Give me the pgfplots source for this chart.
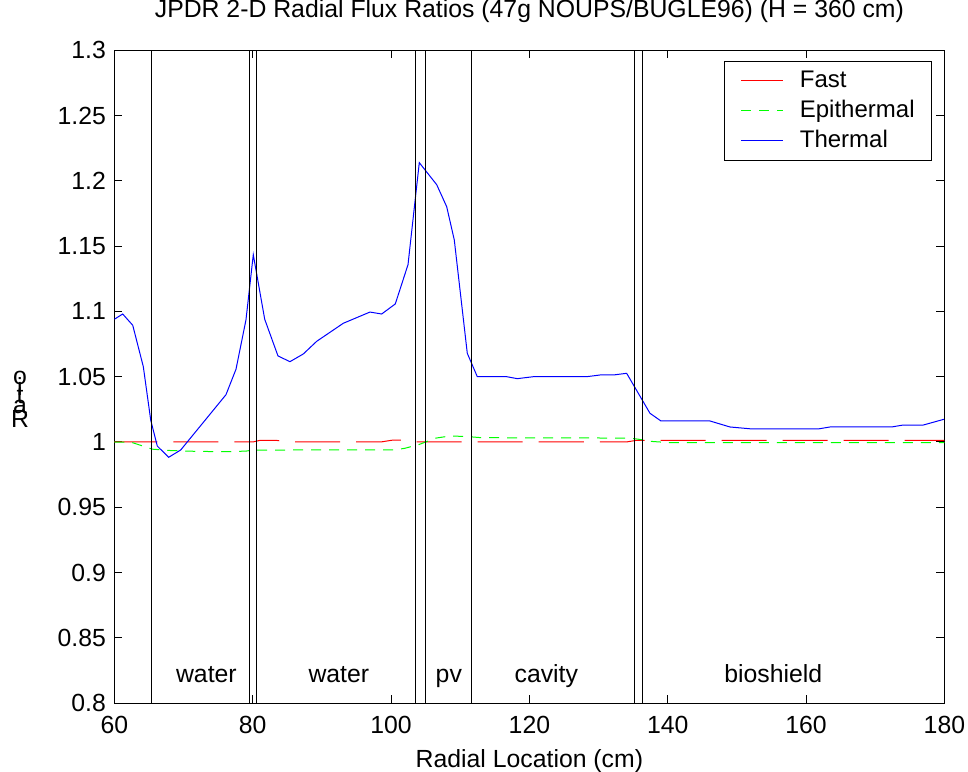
\documentclass[border=0pt]{standalone}
\usepackage{fontspec}
\setmainfont{Liberation Sans}
\usepackage{pgfplots}
\pgfplotsset{compat=1.18}

\begin{document}
\begin{tikzpicture}
\begin{axis}[%
scale only axis,
width=415pt, height=326.5pt,
xmin=60, xmax=180,
ymin=0.8, ymax=1.3,
xtick={60,80,100,120,140,160,180},
ytick={0.8,0.85,0.9,0.95,1,1.05,1.1,1.15,1.2,1.25,1.3},
tick align=inside,
major tick length=4pt,
xtick pos=both, ytick pos=both,
tick style={black, line width=0.5pt},
axis line style={line width=0.6pt},
font=\fontsize{12.4}{14}\selectfont,
ticklabel style={font=\fontsize{12.4}{14}\selectfont},
/pgf/number format/assume math mode=true,
xticklabel style={anchor=base, yshift=-15pt},
yticklabel style={anchor=east, xshift=-0.7pt},
title={JPDR 2-D Radial Flux Ratios (47g NOUPS/BUGLE96) (H = 360 cm)},
title style={at={(rel axis cs:0.5,1)}, anchor=base, yshift=10.5pt, inner sep=0pt},
xlabel={Radial Location (cm)},
xlabel style={at={(rel axis cs:0.5,0)}, anchor=base, yshift=-32pt, inner sep=0pt},
ylabel={\makebox[0pt]{R}\makebox[0pt]{\raisebox{7pt}{a}}\makebox[0pt]{\raisebox{12pt}{t}}\makebox[0pt]{\raisebox{16pt}{i}}\makebox[0pt]{\raisebox{21.5pt}{o}}},
ylabel style={rotate=-90, at={(rel axis cs:0,0)}, anchor=base, xshift=-47.2pt, yshift=137.6pt, inner sep=0pt},
clip mode=individual,
legend cell align=left,
legend style={draw=black, line width=0.5pt, fill=white,
  at={(rel axis cs:1,1)}, anchor=north east, xshift=-6.35pt, yshift=-5.4pt,
  inner xsep=8.3pt, inner ysep=4pt, row sep=3.5pt,
  font=\fontsize{12}{14}\selectfont,
  nodes={inner sep=0pt, text height=9pt, text depth=2.5pt}},
legend image code/.code={\draw[#1] (0pt,0pt) -- (20.8pt,0pt); \path (29.1pt,0pt);},
]
% Fast
\addplot [color=red, line width=0.5pt, dash pattern=on 22.5pt off 8pt, dash phase=1pt,
  legend image code/.code={\draw[red, line width=0.5pt] (0pt,0pt) -- (20.8pt,0pt); \path (29.1pt,0pt);}]
coordinates {(60,1.0)(80,1.0)(81,1.0012)(83.5,1.0012)(85,1.0)(98.5,1.0)(100.3,1.0015)(102.2,1.0015)(103.5,1.0)(134,1.0)(135.5,1.0013)(180,1.0013)};
\addlegendentry{Fast}
% Epithermal
\addplot [color=green, line width=0.5pt, dash pattern=on 5pt off 4pt]
coordinates {(60,1.0)(62.5,0.9997)(65.5,0.9945)(68,0.9935)(72,0.9928)(76,0.9926)(79,0.993)(80,0.9938)(87,0.9939)(100.5,0.9939)(102,0.9952)(104,0.998)(106.5,1.003)(108.5,1.0046)(111,1.0042)(113,1.0033)(134.5,1.003)(136.2,1.0018)(137.5,1.0005)(140,0.9996)(180,0.9995)};
\addlegendentry{Epithermal}
% Thermal
\addplot [color=blue, line width=0.5pt]
coordinates {(60,1.094)(61.2,1.098)(62.65,1.0894)(64.18,1.0577)(65.25,1.0168)(66.2,0.9969)(67.85,0.9883)(69.59,0.9939)(76.13,1.0362)(77.58,1.0557)(79.02,1.0934)(80.08,1.1434)(81.73,1.094)(83.65,1.0659)(85.38,1.0615)(87.31,1.0674)(89.25,1.0771)(93.09,1.0909)(96.95,1.0995)(98.64,1.098)(100.61,1.1057)(102.45,1.1358)(104.08,1.2139)(106.6,1.197)(108.04,1.1802)(109.14,1.1547)(111.02,1.0679)(112.47,1.05)(116.72,1.05)(118.25,1.0485)(120.56,1.05)(128.28,1.05)(130.2,1.0513)(132.13,1.0513)(134.06,1.0526)(137.43,1.022)(139.02,1.0161)(146.1,1.0161)(149.0,1.0115)(152.13,1.01)(161.76,1.01)(163.45,1.0115)(172.37,1.0115)(174.05,1.013)(176.95,1.013)(179.94,1.0174)};
\addlegendentry{Thermal}
% region boundaries
\addplot [black, line width=0.5pt, forget plot] coordinates {(65.3,0.8)(65.3,1.3)};
\addplot [black, line width=0.5pt, forget plot] coordinates {(79.5,0.8)(79.5,1.3)};
\addplot [black, line width=0.5pt, forget plot] coordinates {(80.6,0.8)(80.6,1.3)};
\addplot [black, line width=0.5pt, forget plot] coordinates {(103.6,0.8)(103.6,1.3)};
\addplot [black, line width=0.5pt, forget plot] coordinates {(105.0,0.8)(105.0,1.3)};
\addplot [black, line width=0.5pt, forget plot] coordinates {(111.7,0.8)(111.7,1.3)};
\addplot [black, line width=0.5pt, forget plot] coordinates {(135.2,0.8)(135.2,1.3)};
\addplot [black, line width=0.5pt, forget plot] coordinates {(136.3,0.8)(136.3,1.3)};
% region names
\node[anchor=base, inner sep=0pt] at (axis cs:73.3,0.8157) {water};
\node[anchor=base, inner sep=0pt] at (axis cs:92.45,0.8157) {water};
\node[anchor=base, inner sep=0pt] at (axis cs:108.35,0.8157) {pv};
\node[anchor=base, inner sep=0pt] at (axis cs:122.45,0.8157) {cavity};
\node[anchor=base, inner sep=0pt] at (axis cs:155.26,0.8157) {bioshield};
\end{axis}
\path (current axis.south west) ++(-57.2pt,-33.9pt) coordinate (bl);
\path (current axis.north east) ++(11.8pt,25.1pt) coordinate (tr);
\pgfresetboundingbox
\path[use as bounding box] (bl) rectangle (tr);
\end{tikzpicture}
\end{document}
